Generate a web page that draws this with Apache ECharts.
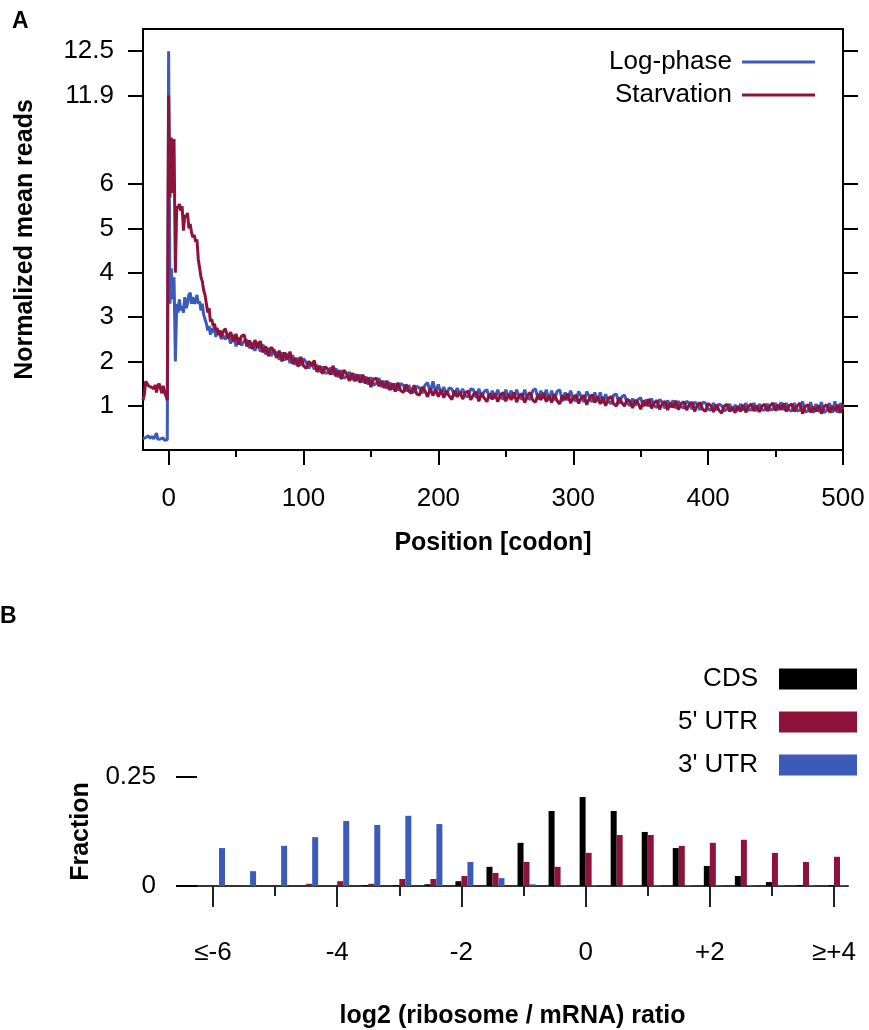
<!DOCTYPE html>
<html>
<head>
<meta charset="utf-8">
<script src="https://cdn.jsdelivr.net/npm/echarts@6/dist/echarts.min.js"></script>
<style>
  html, body { margin: 0; padding: 0; background: #fff; }
  #chart { width: 869px; height: 1030px; }
</style>
</head>
<body>
<div id="chart"></div>
<script>
// ---- panel A: mean reads along the CDS ----
// codons -19..40, one value per codon
const earlyStart = -19;
const logEarly = [
  0.26, 0.30, 0.28, 0.25, 0.32, 0.27, 0.24, 0.30, 0.25, 0.23, 0.38, 0.24, 0.26, 0.25, 0.23, 0.27, 0.22, 0.24, 0.23,
  12.5,
  3.3, 4.1, 3.4, 3.9, 2.0, 3.3, 3.1, 3.4, 3.15, 3.25,
  3.1, 3.45, 3.2, 3.3, 3.5, 3.55, 3.3, 3.45, 3.3, 3.35,
  3.5, 3.3, 3.35, 3.15, 3.3, 3.05, 2.95, 2.85, 2.7, 2.8,
  2.6, 2.75, 2.65, 2.8, 2.55, 2.7, 2.6, 2.65, 2.5, 2.6
];
const starvEarly = [
  1.12, 1.25, 1.55, 1.50, 1.45, 1.48, 1.42, 1.46, 1.38, 1.47, 1.30, 1.45, 1.50, 1.38, 1.28, 1.45, 1.30, 1.22, 1.12,
  11.9,
  5.7, 9.1, 5.8, 9.0, 4.0, 5.5, 5.45, 5.55, 5.4, 5.5,
  4.95, 5.3, 5.25, 5.35, 5.0, 5.1, 4.9, 4.8, 4.85, 4.7,
  4.75, 4.3, 4.1, 3.9, 3.8, 3.6, 3.5, 3.3, 3.1, 3.2,
  2.9, 2.95, 2.8, 2.85, 2.7, 2.75, 2.6, 2.7, 2.55, 2.65
];
// codons 42..500, every second codon
const tailStart = 42;
const tailStep = 2;
const logTail = [
  2.5, 2.62, 2.4, 2.6, 2.34, 2.54, 2.36, 2.46, 2.48, 2.3,
  2.42, 2.24, 2.44, 2.22, 2.38, 2.16, 2.3, 2.12, 2.26, 2.18,
  2.04, 2.2, 2.02, 2.18, 1.96, 2.14, 1.92, 2.08, 1.9, 2.06,
  1.98, 1.84, 1.98, 1.82, 1.92, 1.76, 1.88, 1.74, 1.74, 1.86,
  1.7, 1.84, 1.64, 1.8, 1.62, 1.66, 1.76, 1.58, 1.72, 1.56,
  1.7, 1.52, 1.66, 1.48, 1.64, 1.46, 1.5, 1.62, 1.42, 1.56,
  1.38, 1.52, 1.36, 1.5, 1.34, 1.5, 1.46, 1.32, 1.46, 1.34,
  1.3, 1.44, 1.4, 1.28, 1.46, 1.52, 1.3, 1.55, 1.3, 1.48,
  1.26, 1.42, 1.24, 1.4, 1.38, 1.22, 1.4, 1.24, 1.38, 1.22,
  1.2, 1.38, 1.36, 1.18, 1.38, 1.2, 1.32, 1.36, 1.16, 1.34,
  1.16, 1.36, 1.2, 1.14, 1.36, 1.18, 1.34, 1.16, 1.36, 1.2,
  1.14, 1.36, 1.18, 1.14, 1.34, 1.38, 1.14, 1.34, 1.16, 1.36,
  1.12, 1.34, 1.12, 1.32, 1.36, 1.1, 1.3, 1.12, 1.34, 1.16,
  1.1, 1.32, 1.2, 1.08, 1.32, 1.2, 1.08, 1.3, 1.1, 1.3,
  1.06, 1.26, 1.1, 1.04, 1.24, 1.26, 1.04, 1.2, 1.24, 1.06,
  1.0, 1.16, 1.0, 1.14, 1.18, 0.98, 1.14, 0.98, 1.16, 1.0,
  0.96, 1.14, 1.08, 0.94, 1.12, 0.96, 1.12, 0.94, 1.1, 0.98,
  0.94, 1.1, 1.06, 0.92, 1.08, 1.04, 0.9, 1.08, 1.06, 0.92,
  0.9, 1.06, 0.9, 1.04, 1.0, 0.88, 0.92, 1.04, 0.88, 1.02,
  0.88, 1.04, 0.9, 1.06, 0.9, 0.9, 1.06, 0.88, 1.04, 0.9,
  0.9, 1.04, 0.9, 0.92, 1.06, 0.9, 1.08, 0.9, 1.06, 0.9,
  0.88, 1.06, 0.88, 0.9, 1.1, 0.86, 0.88, 1.08, 0.84, 1.04,
  0.86, 1.08, 0.84, 0.9, 1.06, 0.84, 1.1, 0.84, 1.06, 0.92
];
const starvTail = [
  2.74, 2.52, 2.66, 2.45, 2.62, 2.38, 2.57, 2.6, 2.34, 2.47,
  2.28, 2.48, 2.3, 2.46, 2.2, 2.34, 2.12, 2.32, 2.24, 2.08,
  2.24, 2.0, 2.2, 2.04, 2.22, 1.94, 2.08, 1.88, 2.1, 1.9,
  1.84, 2.0, 1.9, 2.02, 1.76, 1.9, 1.72, 1.88, 1.82, 1.7,
  1.9, 1.66, 1.8, 1.6, 1.8, 1.72, 1.56, 1.74, 1.55, 1.7,
  1.52, 1.7, 1.5, 1.64, 1.42, 1.6, 1.62, 1.44, 1.56, 1.4,
  1.56, 1.35, 1.5, 1.32, 1.52, 1.34, 1.3, 1.48, 1.33, 1.28,
  1.46, 1.26, 1.24, 1.42, 1.34, 1.2, 1.38, 1.23, 1.36, 1.2,
  1.36, 1.18, 1.33, 1.22, 1.14, 1.34, 1.2, 1.31, 1.15, 1.29,
  1.33, 1.13, 1.25, 1.31, 1.1, 1.28, 1.17, 1.09, 1.27, 1.14,
  1.28, 1.09, 1.23, 1.3, 1.1, 1.25, 1.13, 1.3, 1.08, 1.23,
  1.27, 1.07, 1.22, 1.3, 1.12, 1.08, 1.26, 1.13, 1.29, 1.09,
  1.23, 1.07, 1.26, 1.11, 1.04, 1.23, 1.13, 1.27, 1.06, 1.18,
  1.24, 1.05, 1.18, 1.23, 1.02, 1.17, 1.25, 1.07, 1.2, 1.04,
  1.19, 1.0, 1.16, 1.21, 1.04, 0.99, 1.18, 1.07, 0.99, 1.15,
  1.1, 0.95, 1.13, 1.06, 0.92, 1.11, 1.0, 1.15, 0.94, 1.06,
  1.12, 0.92, 1.04, 1.1, 0.9, 1.07, 0.96, 1.11, 0.91, 1.04,
  1.09, 0.9, 1.02, 1.08, 0.87, 1.01, 1.07, 0.92, 0.87, 1.05,
  1.0, 0.86, 1.02, 0.9, 0.83, 0.99, 1.03, 0.87, 0.97, 0.84,
  0.99, 0.87, 1.02, 0.85, 0.98, 1.04, 0.88, 1.0, 0.86, 0.99,
  1.03, 0.88, 1.0, 1.06, 0.89, 1.02, 0.91, 1.05, 0.87, 1.0,
  1.04, 0.87, 0.99, 1.06, 0.82, 0.98, 1.02, 0.85, 0.97, 0.87,
  1.01, 0.82, 0.98, 1.02, 0.85, 0.99, 0.88, 1.02, 0.84, 1.05
];
const yTicksA = [1, 2, 3, 4, 5, 6, 11.9, 12.5];
const xTicksA = [0, 100, 200, 300, 400, 500];
const xMinorA = [50, 150, 250, 350, 450];

// ---- panel B: ribosome / mRNA ratio histogram ----
const binsB = [-6, -5.5, -5, -4.5, -4, -3.5, -3, -2.5, -2, -1.5, -1, -0.5, 0, 0.5, 1, 1.5, 2, 2.5, 3, 3.5, 4];
const cds  = [0, 0, 0, 0, 0, 0.002, 0.002, 0.004, 0.011, 0.044, 0.099, 0.172, 0.204, 0.172, 0.124, 0.087, 0.046, 0.023, 0.009, 0.002, 0.002];
const utr5 = [0.002, 0.002, 0.002, 0.005, 0.011, 0.005, 0.016, 0.016, 0.023, 0.030, 0.055, 0.044, 0.076, 0.117, 0.117, 0.092, 0.099, 0.106, 0.076, 0.055, 0.067];
const utr3 = [0.087, 0.034, 0.092, 0.112, 0.149, 0.140, 0.161, 0.142, 0.055, 0.018, 0.004, 0.002, 0.002, 0.002, 0.002, 0.002, 0.002, 0.002, 0.002, 0.002, 0.002];
const xTicksB = [-6, -4, -2, 0, 2, 4];
const xTickLabelsB = ["≤-6", "-4", "-2", "0", "+2", "≥+4"];
const xMinorB = [-5, -3, -1, 1, 3];

const BLUE = "#3c5ab8";
const RED = "#8e1239";
const FONT = "Liberation Sans, Arial, sans-serif";

// y scale of panel A is squeezed above 6 (6 -> 6, 11.9 -> 8, 12.5 -> 9)
function squeeze(v) {
  if (v <= 6) return v;
  if (v <= 11.9) return 6 + (v - 6) * 2 / 5.9;
  return 8 + (v - 11.9) / 0.6;
}
const yPosA = yTicksA.map(squeeze);

function profile(early, tail) {
  const pts = [];
  early.forEach((v, i) => pts.push([earlyStart + i, squeeze(v)]));
  tail.forEach((v, i) => pts.push([tailStart + i * tailStep, squeeze(v)]));
  return pts;
}

const chart = echarts.init(document.getElementById("chart"));
const tickA = { lineStyle: { color: "#000", width: 2 } };
const labelA = { color: "#000", fontSize: 26, fontFamily: FONT };
const nameStyle = { color: "#000", fontSize: 25, fontWeight: "bold", fontFamily: FONT };

chart.setOption({
  animation: false,
  textStyle: { fontFamily: FONT },
  title: [
    { text: "A", left: 12, top: 10, padding: 0, textStyle: { fontSize: 23, fontWeight: "bold", color: "#000" } },
    { text: "B", left: 0, top: 605, padding: 0, textStyle: { fontSize: 23, fontWeight: "bold", color: "#000" } }
  ],
  legend: [
    {
      data: ["Log-phase", "Starvation"],
      orient: "vertical",
      right: 49,
      top: 44,
      align: "right",
      icon: "rect",
      itemWidth: 73,
      itemHeight: 3,
      itemGap: 7,
      textStyle: { fontSize: 26, color: "#000", padding: [0, 5, 0, 0] }
    },
    {
      data: ["CDS", "5' UTR", "3' UTR"],
      orient: "vertical",
      right: 7,
      top: 661,
      align: "right",
      icon: "rect",
      itemWidth: 78,
      itemHeight: 21,
      itemGap: 17,
      textStyle: { fontSize: 26, color: "#000", padding: [0, 16, 0, 0] }
    }
  ],
  grid: [
    { left: 143, right: 26, top: 29, bottom: 580, show: true, borderColor: "#000", borderWidth: 2 },
    { left: 197, right: 21, top: 777, bottom: 144 }
  ],
  xAxis: [
    {
      gridIndex: 0, type: "value", position: "bottom", min: -19, max: 500,
      axisLine: { onZero: false, lineStyle: { color: "#000", width: 2 } },
      axisTick: Object.assign({ customValues: xTicksA, length: 15 }, tickA),
      axisLabel: Object.assign({ customValues: xTicksA, margin: 36 }, labelA),
      splitLine: { show: false },
      name: "Position [codon]", nameLocation: "middle", nameGap: 81, nameTextStyle: nameStyle
    },
    {
      gridIndex: 0, type: "value", position: "bottom", min: -19, max: 500,
      axisLine: { show: false, onZero: false },
      axisTick: Object.assign({ customValues: xMinorA, length: 7 }, tickA),
      axisLabel: { show: false },
      splitLine: { show: false }
    },
    {
      gridIndex: 1, type: "value", position: "bottom", min: -6.258, max: 4.225,
      axisLine: { onZero: false, lineStyle: { color: "#333", width: 2 } },
      axisTick: { customValues: xTicksB, length: 21, lineStyle: { color: "#222", width: 2 } },
      axisLabel: Object.assign({
        customValues: xTicksB, margin: 54,
        formatter: v => xTickLabelsB[xTicksB.indexOf(v)] || ""
      }, labelA),
      splitLine: { show: false },
      name: "log2 (ribosome / mRNA) ratio", nameLocation: "middle", nameGap: 118,
      nameTextStyle: Object.assign({ padding: [0, 20, 0, 0] }, nameStyle)
    },
    {
      gridIndex: 1, type: "value", position: "bottom", min: -6.258, max: 4.225,
      axisLine: { show: false, onZero: false },
      axisTick: { customValues: xMinorB, length: 10, lineStyle: { color: "#222", width: 2 } },
      axisLabel: { show: false },
      splitLine: { show: false }
    }
  ],
  yAxis: [
    {
      gridIndex: 0, type: "value", position: "left", min: 0, max: 9.5,
      axisLine: { onZero: false, lineStyle: { color: "#000", width: 2 } },
      axisTick: Object.assign({ customValues: yPosA, length: 15 }, tickA),
      axisLabel: Object.assign({
        customValues: yPosA, margin: 29,
        formatter: v => {
          const i = yPosA.findIndex(p => Math.abs(p - v) < 1e-6);
          return i >= 0 ? String(yTicksA[i]) : "";
        }
      }, labelA),
      splitLine: { show: false },
      name: "Normalized mean reads", nameLocation: "middle", nameGap: 105, nameRotate: 90,
      nameTextStyle: nameStyle
    },
    {
      gridIndex: 0, type: "value", position: "right", min: 0, max: 9.5,
      axisLine: { onZero: false, lineStyle: { color: "#000", width: 2 } },
      axisTick: Object.assign({ customValues: yPosA, length: 15 }, tickA),
      axisLabel: { show: false },
      splitLine: { show: false }
    },
    {
      gridIndex: 1, type: "value", min: 0, max: 0.25, interval: 0.25,
      axisLine: { show: false, onZero: false },
      axisTick: { show: true, length: 21, lineStyle: { color: "#000", width: 2 } },
      axisLabel: Object.assign({ margin: 41, formatter: v => (v === 0 ? "0" : "0.25") }, labelA),
      splitLine: { show: false },
      name: "Fraction", nameLocation: "middle", nameGap: 103, nameRotate: 90,
      nameTextStyle: nameStyle
    }
  ],
  series: [
    {
      name: "Log-phase", type: "line", xAxisIndex: 0, yAxisIndex: 0,
      data: profile(logEarly, logTail), showSymbol: false, color: BLUE,
      lineStyle: { width: 3, color: BLUE }
    },
    {
      name: "Starvation", type: "line", xAxisIndex: 0, yAxisIndex: 0,
      data: profile(starvEarly, starvTail), showSymbol: false, color: RED,
      lineStyle: { width: 3, color: RED }
    },
    // empty slot so the group sits to the right of each tick like the original
    { name: "pad", type: "bar", xAxisIndex: 2, yAxisIndex: 2, data: [], barWidth: 6, barGap: "0%" },
    {
      name: "CDS", type: "bar", xAxisIndex: 2, yAxisIndex: 2, color: "#000",
      data: binsB.map((b, i) => [b, cds[i]]), barWidth: 6, barGap: "0%"
    },
    {
      name: "5' UTR", type: "bar", xAxisIndex: 2, yAxisIndex: 2, color: RED,
      data: binsB.map((b, i) => [b, utr5[i]]), barWidth: 6, barGap: "0%"
    },
    {
      name: "3' UTR", type: "bar", xAxisIndex: 2, yAxisIndex: 2, color: BLUE,
      data: binsB.map((b, i) => [b, utr3[i]]), barWidth: 6, barGap: "0%"
    }
  ]
});
</script>
</body>
</html>
